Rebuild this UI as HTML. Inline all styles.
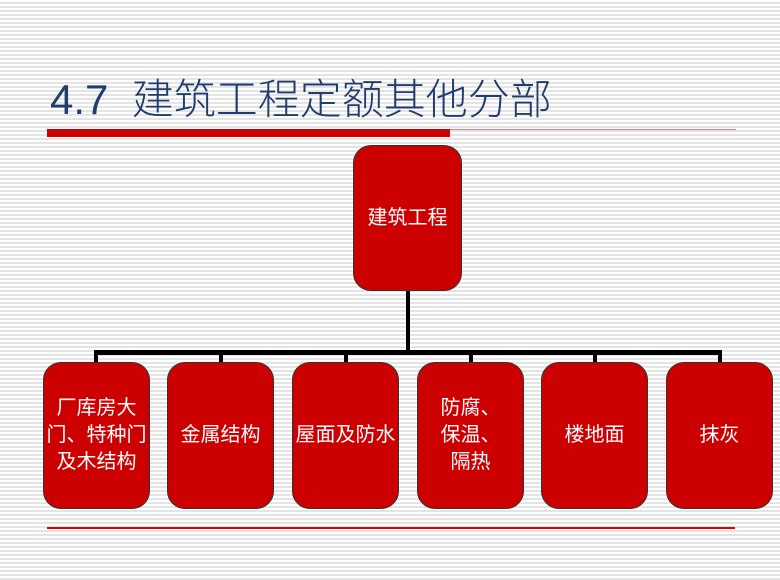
<!DOCTYPE html>
<html><head><meta charset="utf-8"><style>
body{margin:0;width:780px;height:580px;overflow:hidden;position:relative;
background:repeating-linear-gradient(to bottom,#fff 0,#fff 2px,#e4e4e4 2px,#e4e4e4 4px);
font-family:"Liberation Sans","Noto Sans CJK SC",sans-serif;}
.t{position:absolute;left:50px;top:74px;font-size:42px;color:#1f3d6e;white-space:nowrap;line-height:52px;font-weight:300}
.b{position:absolute;background:#cc0000;border:1.5px solid #333;border-radius:18px;color:#fff;
display:flex;align-items:center;justify-content:center;text-align:center;font-size:20px;line-height:27px;box-sizing:border-box;white-space:nowrap}
.l{position:absolute;background:#000}
</style></head><body>
<div class="t">4.7&nbsp; 建筑工程定额其他分部</div>
<div style="position:absolute;left:47px;top:129px;width:403px;height:8px;background:#cc0000"></div>
<div style="position:absolute;left:450px;top:129px;width:286px;height:1px;background:#e08080"></div>
<div style="position:absolute;left:47px;top:527px;width:688px;height:2px;background:#e00000"></div>
<div class="l" style="left:406px;top:290px;width:4px;height:62px"></div>
<div class="l" style="left:94px;top:350px;width:628px;height:5px"></div>
<div class="l" style="left:94px;top:350px;width:4px;height:14px"></div>
<div class="l" style="left:219px;top:350px;width:4px;height:14px"></div>
<div class="l" style="left:344px;top:350px;width:4px;height:14px"></div>
<div class="l" style="left:469px;top:350px;width:4px;height:14px"></div>
<div class="l" style="left:593px;top:350px;width:4px;height:14px"></div>
<div class="l" style="left:718px;top:350px;width:4px;height:14px"></div>
<div class="b" style="left:353px;top:145px;width:109px;height:146px">建筑工程</div>
<div class="b" style="left:43px;top:362px;width:107px;height:147px">厂库房大<br>门、特种门<br>及木结构</div>
<div class="b" style="left:167px;top:362px;width:107px;height:147px">金属结构</div>
<div class="b" style="left:292px;top:362px;width:107px;height:147px">屋面及防水</div>
<div class="b" style="left:417px;top:362px;width:107px;height:147px">防腐、<br>保温、<br>隔热</div>
<div class="b" style="left:541px;top:362px;width:107px;height:147px">楼地面</div>
<div class="b" style="left:666px;top:362px;width:107px;height:147px">抹灰</div>
</body></html>
